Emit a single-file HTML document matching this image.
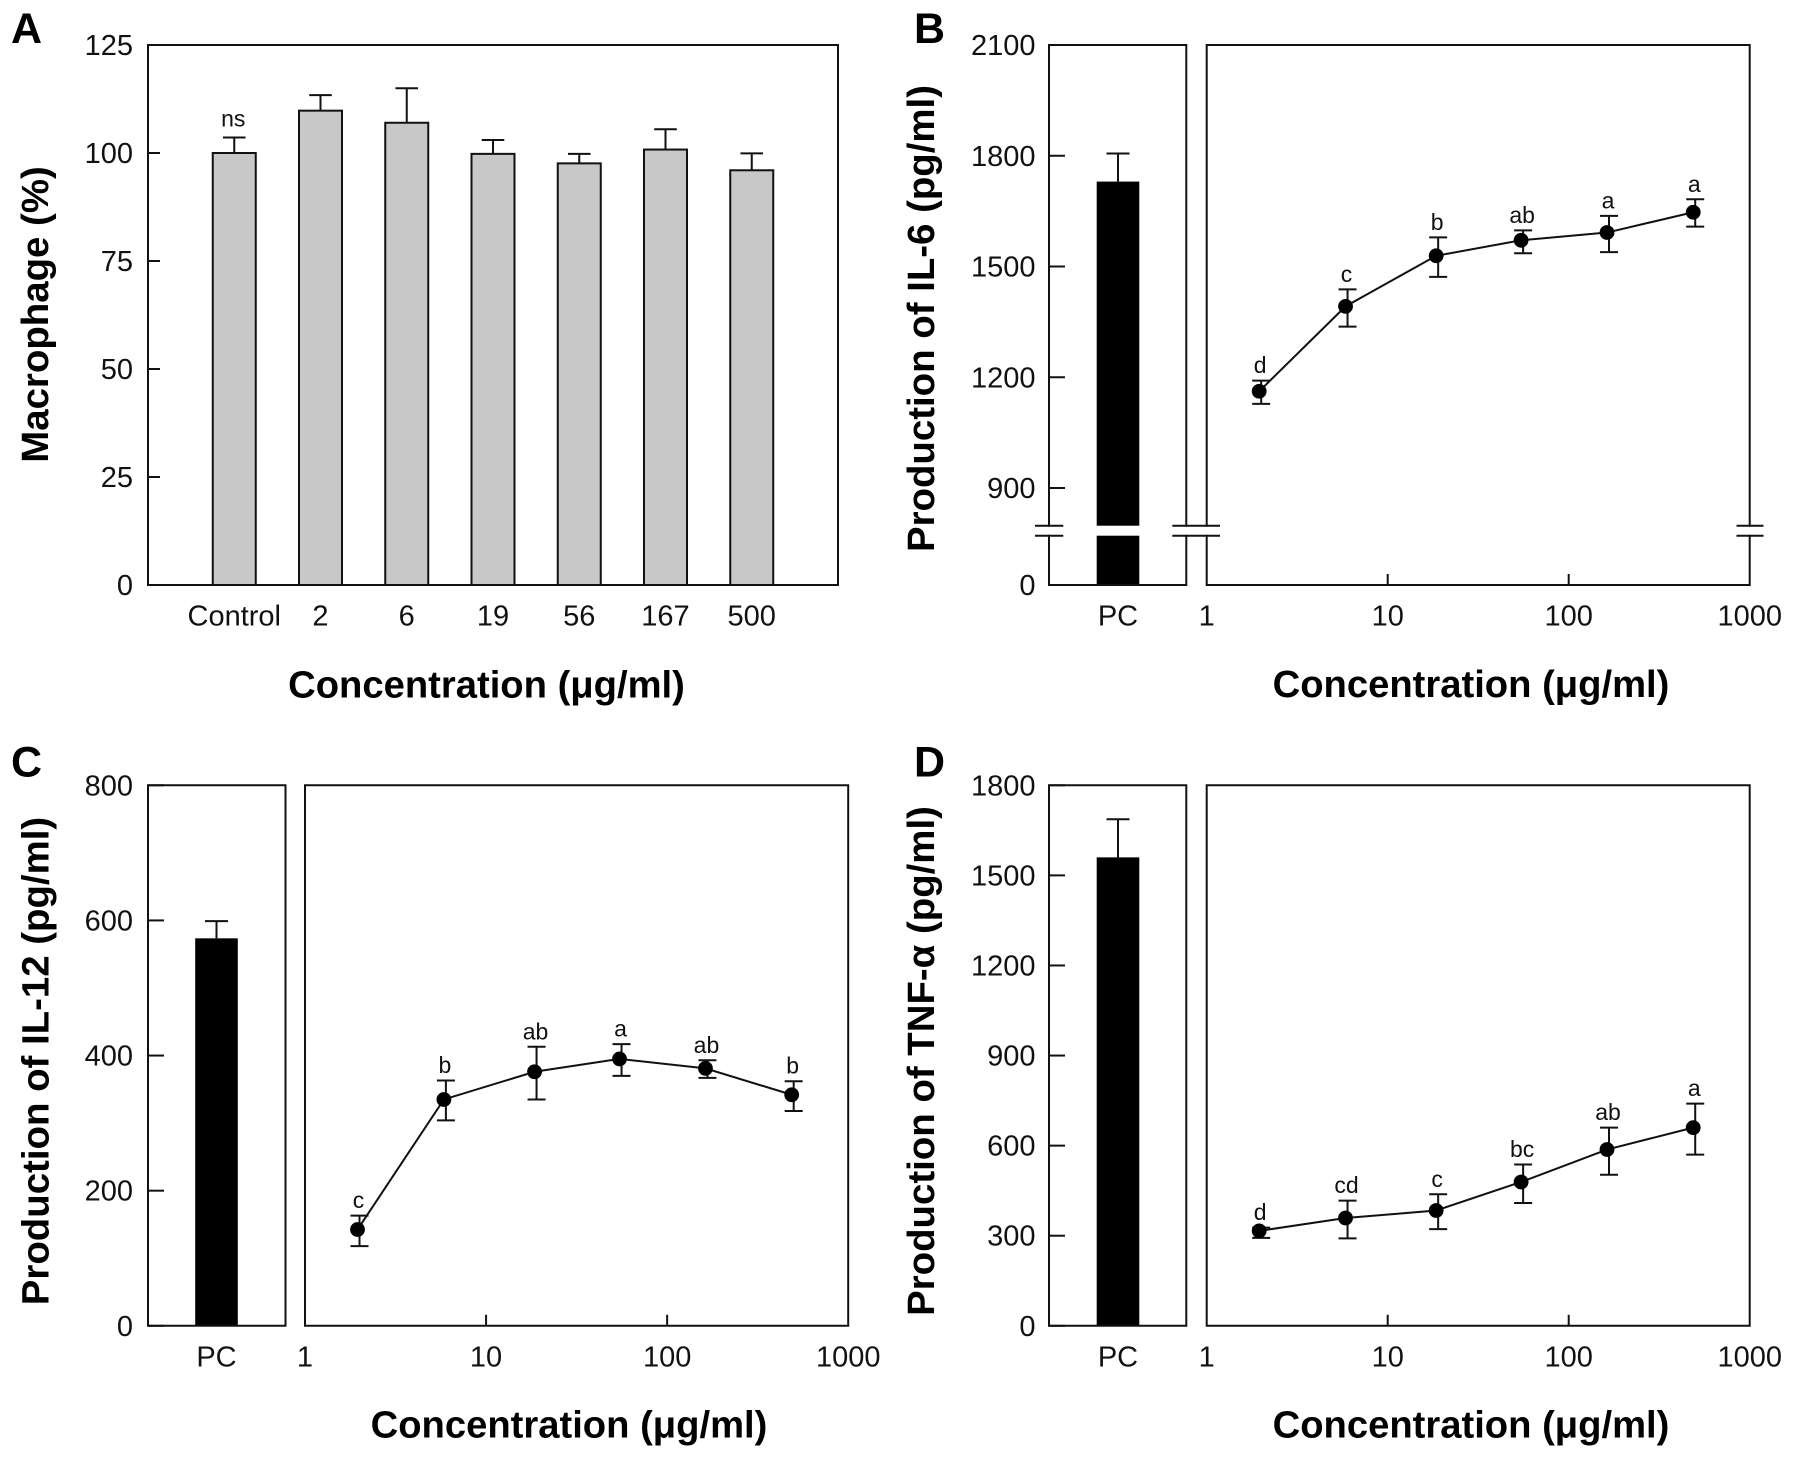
<!DOCTYPE html>
<html lang="en">
<head>
<meta charset="utf-8">
<title>Macrophage viability and cytokine production</title>
<style>
html,body{margin:0;padding:0;background:#fff;}
body{width:1795px;height:1459px;overflow:hidden;}
svg{display:block;font-family:"Liberation Sans",Arial,sans-serif;filter:blur(0.3px);}
.tick{font-size:29px;fill:#111;}
.sig{font-size:23px;fill:#111;}
.title{font-size:38.4px;font-weight:bold;fill:#000;}
.title-x{font-size:38.2px;font-weight:bold;fill:#000;}
.panel-letter{font-size:43px;font-weight:bold;fill:#000;}
</style>
</head>
<body>
<svg id="figure" xmlns="http://www.w3.org/2000/svg" width="1795" height="1459" viewBox="0 0 1795 1459">
  <rect width="1795" height="1459" fill="#fff"/>
  <text class="panel-letter" x="11" y="43">A</text>
  <text class="panel-letter" x="914" y="43">B</text>
  <text class="panel-letter" x="11" y="776.5">C</text>
  <text class="panel-letter" x="914" y="776.5">D</text>

  <text class="title-x" x="486.5" y="697.5" text-anchor="middle">Concentration (μg/ml)</text>
  <text class="title-x" x="1471" y="697" text-anchor="middle">Concentration (μg/ml)</text>
  <text class="title-x" x="569" y="1437.5" text-anchor="middle">Concentration (μg/ml)</text>
  <text class="title-x" x="1471" y="1437.5" text-anchor="middle">Concentration (μg/ml)</text>

  <text class="title" transform="translate(48,314.5) rotate(-90)" text-anchor="middle">Macrophage (%)</text>
  <text class="title" transform="translate(934,318.5) rotate(-90)" text-anchor="middle">Production of IL-6 (pg/ml)</text>
  <text class="title" transform="translate(48.5,1061) rotate(-90)" text-anchor="middle">Production of IL-12 (pg/ml)</text>
  <text class="title" transform="translate(934,1061) rotate(-90)" text-anchor="middle">Production of TNF-α (pg/ml)</text>
</svg>

<script>
// ---- Panel A data ----
const macrophageCategories = ['Control', '2', '6', '19', '56', '167', '500'];
const macrophageValues = [100, 109.8, 107, 99.8, 97.6, 100.8, 96];
const macrophageErrorTops = [103.6, 113.4, 115, 103, 99.8, 105.5, 99.9];
const macrophageLetters = ['ns'];
const macrophageYTicks = [0, 25, 50, 75, 100, 125];

// ---- Shared dose axis ----
const concentrations = [2, 6, 19, 56, 167, 500];
const logTicks = [1, 10, 100, 1000];
const pcLabel = ['PC'];

// ---- Panel B data (IL-6) ----
const il6Values = [1162, 1392, 1529, 1571, 1592, 1647];
const il6High = [1191, 1438, 1579, 1598, 1637, 1682];
const il6Low = [1128, 1337, 1472, 1536, 1539, 1608];
const il6Letters = ['d', 'c', 'b', 'ab', 'a', 'a'];
const il6Pc = [1730];
const il6PcHigh = [1806];
const il6YTicks = [0, 900, 1200, 1500, 1800, 2100];

// ---- Panel C data (IL-12) ----
const il12Values = [142.5, 335, 376, 395, 381, 342];
const il12High = [163, 363, 413, 417, 393, 362];
const il12Low = [118, 304, 335, 370, 367, 318];
const il12Letters = ['c', 'b', 'ab', 'a', 'ab', 'b'];
const il12Pc = [573.5];
const il12PcHigh = [599];
const il12YTicks = [0, 200, 400, 600, 800];

// ---- Panel D data (TNF-alpha) ----
const tnfValues = [316, 359, 384, 479, 587, 660];
const tnfHigh = [327, 417, 438, 537, 660, 740];
const tnfLow = [293, 291, 322, 409, 503, 570];
const tnfLetters = ['d', 'cd', 'c', 'bc', 'ab', 'a'];
const tnfPc = [1560];
const tnfPcHigh = [1687];
const tnfYTicks = [0, 300, 600, 900, 1200, 1500, 1800];

const svg = document.getElementById('figure');
const NS = 'http://www.w3.org/2000/svg';
const INK = '#111';

function make(tag, attrs, text) {
  const el = document.createElementNS(NS, tag);
  for (const k in attrs) el.setAttribute(k, attrs[k]);
  if (text !== undefined) el.textContent = text;
  svg.appendChild(el);
  return el;
}
function stroked(extra) {
  return Object.assign({ stroke: INK, 'stroke-width': 2, fill: 'none' }, extra);
}
function linearY(top, bottom, max) {
  return v => bottom - (bottom - top) * v / max;
}
function brokenY(top, bottom, max, kneeValue, kneeY) {
  return v => v >= kneeValue
    ? kneeY - (kneeY - top) * (v - kneeValue) / (max - kneeValue)
    : bottom - (bottom - kneeY) * v / kneeValue;
}
function logX(left, right) {
  return v => left + (right - left) * Math.log10(v) / 3;
}

function drawYAxis(prefix, ticks, y, axisX, labelX, tickLen) {
  ticks.forEach(t => {
    const mark = make('line', stroked({ x1: axisX, x2: axisX + tickLen, y1: y(t), y2: y(t) }));
    
    
    const label = make('text', { class: 'tick', x: labelX, y: y(t) + 10, 'text-anchor': 'end' }, String(t));
    
    
  });
}

function drawFrame(prefix, x0, x1, top, bottom, brk) {
  let d = 'M' + x0 + ' ' + top + 'H' + x1 + 'M' + x0 + ' ' + bottom + 'H' + x1;
  [x0, x1].forEach(x => {
    d += brk
      ? 'M' + x + ' ' + top + 'V' + brk[0] + 'M' + x + ' ' + brk[1] + 'V' + bottom
      : 'M' + x + ' ' + top + 'V' + bottom;
  });
  const frame = make('path', stroked({ d: d, 'stroke-linecap': 'square' }));
  
  
}

function drawBreak(prefix, x0, x1, brk) {
  brk.forEach(y => {
    const mark = make('line', stroked({ x1: x0, x2: x1, y1: y, y2: y }));
    
    
  });
}

function drawPcBar(prefix, cx, y, value, high, bottom, brk) {
  const halfBar = 21.3, halfCap = 11.5;
  const bar = make('rect', { x: cx - halfBar, y: y(value), width: halfBar * 2, height: bottom - y(value), fill: '#000' });
  
  
  if (brk) {
    const gap = make('rect', { x: cx - halfBar - 1, y: brk[0], width: halfBar * 2 + 2, height: brk[1] - brk[0], fill: '#fff' });
    
    
  }
  const stem = make('line', stroked({ x1: cx, x2: cx, y1: y(value), y2: y(high) }));
  
  
  const cap = make('line', stroked({ x1: cx - halfCap, x2: cx + halfCap, y1: y(high), y2: y(high) }));
  
  
  const label = make('text', { class: 'tick', x: cx, y: bottom + 40.5, 'text-anchor': 'middle' }, pcLabel[0]);
  
  
}

function drawDoseSeries(prefix, x, y, values, high, low, letters) {
  const markerShift = -2, halfCap = 9, radius = 7.4;
  const pts = values.map((v, i) => (x(concentrations[i]) + markerShift) + ',' + y(v)).join(' ');
  const line = make('polyline', stroked({ points: pts }));
  
  
  values.forEach((v, i) => {
    const cx = x(concentrations[i]);
    const stem = make('line', stroked({ x1: cx, x2: cx, y1: y(low[i]), y2: y(high[i]) }));
    
    
    const capTop = make('line', stroked({ x1: cx - halfCap, x2: cx + halfCap, y1: y(high[i]), y2: y(high[i]) }));
    
    
    const capLow = make('line', stroked({ x1: cx - halfCap, x2: cx + halfCap, y1: y(low[i]), y2: y(low[i]) }));
    
    
    const dot = make('circle', { cx: cx + markerShift, cy: y(v), r: radius, fill: '#000' });
    
    
    const sig = make('text', { class: 'sig', x: cx - 1, y: y(high[i]) - 7.5, 'text-anchor': 'middle' }, letters[i]);
    
    
  });
}

function drawLogAxis(prefix, x, bottom) {
  logTicks.forEach(t => {
    if (t !== 1 && t !== 1000) {
      const mark = make('line', stroked({ x1: x(t), x2: x(t), y1: bottom, y2: bottom - 11 }));
      
      
    }
    const label = make('text', { class: 'tick', x: x(t), y: bottom + 40.5, 'text-anchor': 'middle' }, String(t));
    
    
  });
}

// ---- Panel A ----
(function () {
  const left = 148, right = 838, top = 45, bottom = 585;
  const y = linearY(top, bottom, 125);
  const x = i => left + (right - left) / 8 * (i + 1);
  macrophageValues.forEach((v, i) => {
    const bar = make('rect', { x: x(i) - 21.5, y: y(v), width: 43, height: bottom - y(v), fill: '#c8c8c8', stroke: INK, 'stroke-width': 2 });
    
    
    const stem = make('line', stroked({ x1: x(i), x2: x(i), y1: y(v), y2: y(macrophageErrorTops[i]) }));
    
    
    const cap = make('line', stroked({ x1: x(i) - 11.3, x2: x(i) + 11.3, y1: y(macrophageErrorTops[i]), y2: y(macrophageErrorTops[i]) }));
    
    
    const label = make('text', { class: 'tick', x: x(i), y: bottom + 40.5, 'text-anchor': 'middle' }, macrophageCategories[i]);
    
    
  });
  const ns = make('text', { class: 'sig', x: x(0) - 1, y: y(macrophageErrorTops[0]) - 11, 'text-anchor': 'middle' }, macrophageLetters[0]);
  
  
  drawFrame('panel-a', left, right, top, bottom, null);
  drawYAxis('panel-a', macrophageYTicks, y, left, 133, 12);
})();

// ---- Panel B ----
(function () {
  const top = 45, bottom = 585, brk = [525.7, 535.7];
  const y = brokenY(top, bottom, 2100, 900, 488);
  const x = logX(1206.7, 1749.7);
  drawPcBar('panel-b', 1118, y, il6Pc[0], il6PcHigh[0], bottom, brk);
  drawFrame('panel-b-control', 1049, 1186.3, top, bottom, brk);
  drawFrame('panel-b-dose', 1206.7, 1749.7, top, bottom, brk);
  drawBreak('panel-b-left', 1035, 1063.3, brk);
  drawBreak('panel-b-middle', 1172.3, 1220, brk);
  drawBreak('panel-b-right', 1736.5, 1763.5, brk);
  drawYAxis('panel-b', il6YTicks, y, 1049, 1035.5, 16);
  drawLogAxis('panel-b', x, bottom);
  drawDoseSeries('panel-b', x, y, il6Values, il6High, il6Low, il6Letters);
})();

// ---- Panel C ----
(function () {
  const top = 785.3, bottom = 1325.8;
  const y = linearY(top, bottom, 800);
  const x = logX(305, 848.2);
  drawPcBar('panel-c', 216.5, y, il12Pc[0], il12PcHigh[0], bottom, null);
  drawFrame('panel-c-control', 148, 285.5, top, bottom, null);
  drawFrame('panel-c-dose', 305, 848.2, top, bottom, null);
  drawYAxis('panel-c', il12YTicks, y, 148, 133, 16);
  drawLogAxis('panel-c', x, bottom);
  drawDoseSeries('panel-c', x, y, il12Values, il12High, il12Low, il12Letters);
})();

// ---- Panel D ----
(function () {
  const top = 785.3, bottom = 1325.8;
  const y = linearY(top, bottom, 1800);
  const x = logX(1206.7, 1749.7);
  drawPcBar('panel-d', 1118, y, tnfPc[0], tnfPcHigh[0], bottom, null);
  drawFrame('panel-d-control', 1049, 1186.3, top, bottom, null);
  drawFrame('panel-d-dose', 1206.7, 1749.7, top, bottom, null);
  drawYAxis('panel-d', tnfYTicks, y, 1049, 1035.5, 16);
  drawLogAxis('panel-d', x, bottom);
  drawDoseSeries('panel-d', x, y, tnfValues, tnfHigh, tnfLow, tnfLetters);
})();
</script>
</body>
</html>
